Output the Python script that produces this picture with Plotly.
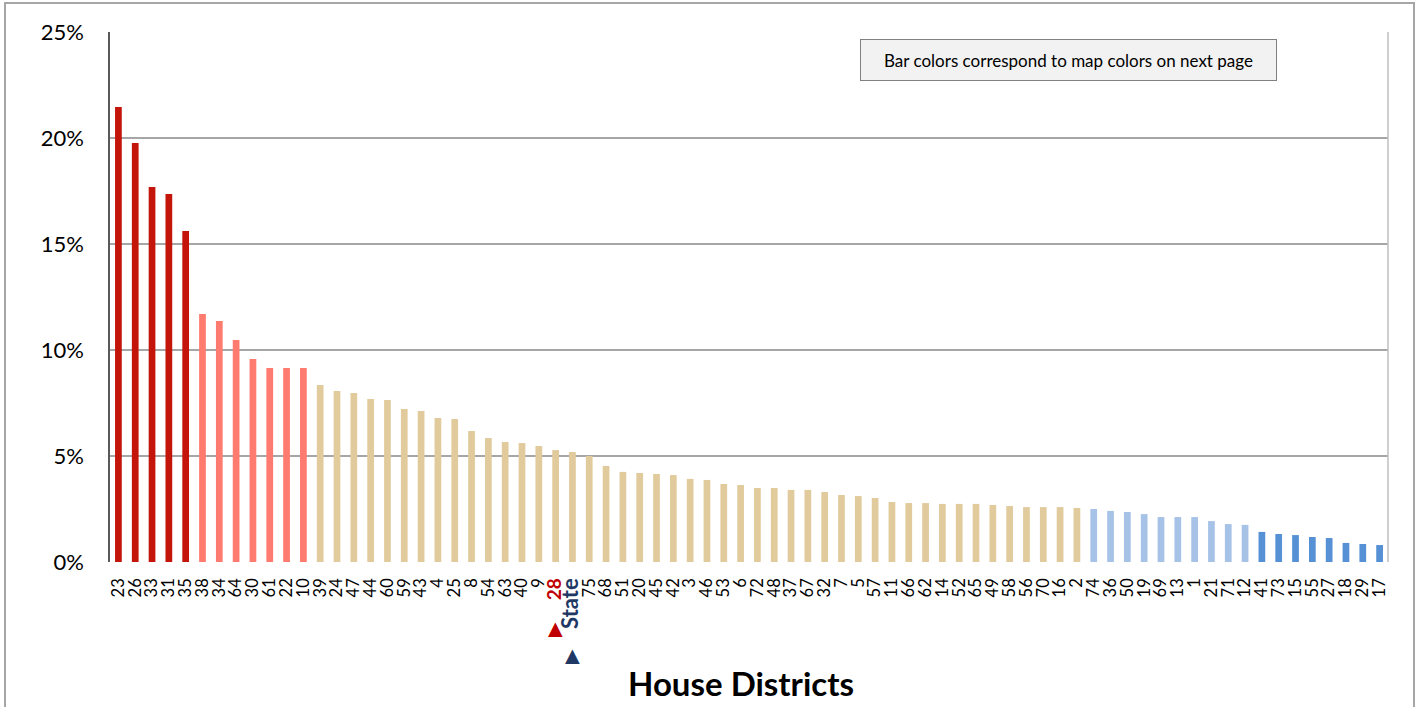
import plotly.graph_objects as go

districts = ["23", "26", "33", "31", "35", "38", "34", "64", "30", "61", "22", "10",
             "39", "24", "47", "44", "60", "59", "43", "4", "25", "8", "54", "63", "40", "9",
             "28", "State", "75", "68", "51", "20", "45", "42", "3", "46", "53", "6", "72",
             "48", "37", "67", "32", "7", "5", "57", "11", "66", "62", "14", "52", "65", "49",
             "58", "56", "70", "16", "2", "74", "36", "50", "19", "69", "13", "1", "21", "71",
             "12", "41", "73", "15", "55", "27", "18", "29", "17"]

values = [21.46, 19.76, 17.69, 17.36, 15.61, 11.70, 11.37, 10.47, 9.58, 9.15, 9.15, 9.15,
          8.35, 8.07, 7.97, 7.69, 7.64, 7.22, 7.12, 6.79, 6.75, 6.18, 5.85, 5.66, 5.61, 5.47,
          5.28, 5.19, 5.00, 4.53, 4.25, 4.20, 4.15, 4.10, 3.92, 3.87, 3.68, 3.63, 3.49,
          3.49, 3.40, 3.40, 3.30, 3.16, 3.11, 3.02, 2.83, 2.78, 2.78, 2.74, 2.74, 2.74, 2.69,
          2.64, 2.59, 2.59, 2.59, 2.55, 2.50, 2.41, 2.36, 2.26, 2.12, 2.12, 2.12, 1.93, 1.79,
          1.75, 1.42, 1.32, 1.27, 1.18, 1.13, 0.90, 0.85, 0.80]

group_sizes = [5, 7, 46, 10, 8]
group_colors = ["#C4150B", "#FF7B6F", "#E1CB9C", "#A6C3E7", "#5690D5"]

highlight_district = "28"
highlight_color = "#C00000"
state_label = "State"
state_color = "#1F3864"

bar_colors = []
for n, c in zip(group_sizes, group_colors):
    bar_colors += [c] * n

ytick_vals = [0, 5, 10, 15, 20, 25]
ytick_text = [f"{v}%" for v in ytick_vals]

ticktext = []
for d in districts:
    if d == highlight_district:
        ticktext.append(f"<b><span style='color:{highlight_color};font-size:19px'>{d}</span></b>")
    elif d == state_label:
        ticktext.append(f"<b><span style='color:{state_color};font-size:22px'>{d}</span></b>")
    else:
        ticktext.append(d)

fig = go.Figure()
fig.add_trace(go.Bar(x=districts, y=values, marker_color=bar_colors,
                     marker_line_width=0, hoverinfo="x+y"))

W, H = 1419, 707
L, R, T, B = 110, 31, 32, 145
pw, ph = W - L - R, H - T - B

def px_x(p):
    return (p - L) / pw

def px_y(p):
    return (H - B - p) / ph

fig.update_layout(
    width=W, height=H,
    margin=dict(l=L, r=R, t=T, b=B),
    paper_bgcolor="white", plot_bgcolor="white",
    bargap=0.6,
    showlegend=False,
    font=dict(family="Lato, Carlito, 'Open Sans', sans-serif", color="#000000"),
)

fig.update_xaxes(
    type="category", categoryorder="array", categoryarray=districts,
    tickmode="array", tickvals=districts, ticktext=ticktext,
    tickangle=-90, tickfont=dict(size=16.5, color="#000000"),
    ticks="", ticklabelstandoff=12,
    showgrid=False, showline=False, range=[-0.5, len(districts) - 0.5],
)

fig.update_yaxes(
    range=[0, 25], tickmode="array", tickvals=ytick_vals, ticktext=ytick_text,
    tickfont=dict(size=22, color="#000000"),
    showgrid=True, gridcolor="#A6A6A6", gridwidth=2,
    zeroline=False, showline=True, linecolor="#595959", linewidth=1.5,
    ticks="", ticklabelstandoff=20,
)

# outer chart border
fig.add_shape(type="rect", xref="paper", yref="paper",
              x0=px_x(5), x1=px_x(1414), y0=px_y(720), y1=px_y(3),
              line=dict(color="#A6A6A6", width=2), fillcolor="rgba(0,0,0,0)", layer="below")
# right border of plot area
fig.add_shape(type="line", xref="paper", yref="paper", x0=1, x1=1, y0=0, y1=1,
              line=dict(color="#BFBFBF", width=1.5))

# triangles under highlighted labels
fig.add_annotation(x=districts.index(highlight_district), xref="x", y=px_y(627), yref="paper",
                   xanchor="center", yanchor="middle",
                   text="▲", showarrow=False, font=dict(size=25, color=highlight_color))
fig.add_annotation(x=districts.index(state_label), xref="x", y=px_y(654), yref="paper",
                   xanchor="center", yanchor="middle",
                   text="▲", showarrow=False, font=dict(size=25, color=state_color))

# axis title
fig.add_annotation(x=px_x(741), xref="paper", y=px_y(683), yref="paper",
                   xanchor="center", yanchor="middle",
                   text="<b>House Districts</b>", showarrow=False,
                   font=dict(size=33, color="#000000"))

# note box
fig.add_annotation(x=px_x(1068.5), xref="paper", y=px_y(60), yref="paper",
                   xanchor="center", yanchor="middle",
                   text="Bar colors correspond to map colors on next page",
                   showarrow=False, font=dict(size=17, color="#000000"),
                   bgcolor="#F2F2F2", bordercolor="#808080", borderwidth=1,
                   borderpad=2, width=411, height=36)

fig.write_html("out.html", config={"displayModeBar": False},
               post_script="document.body.style.margin='0';")
